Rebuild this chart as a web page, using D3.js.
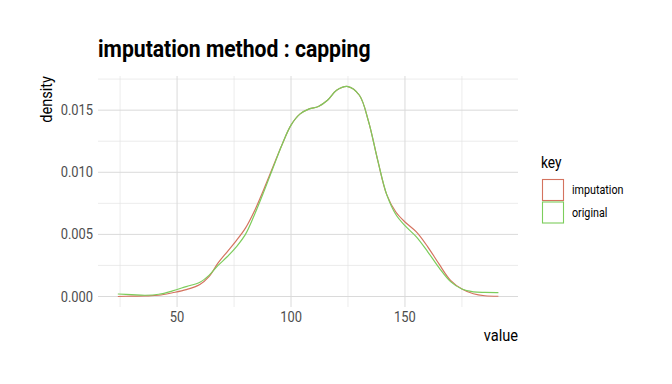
<!DOCTYPE html>
<html><head><meta charset="utf-8">
<script src="https://cdn.jsdelivr.net/npm/d3@7"></script>
<style>body{margin:0;background:#fff;} text{font-family:Roboto,"Noto Sans",sans-serif;}</style>
</head><body><svg id="c" width="672" height="384"></svg>
<script>
const xValues = [24,30,36,42,48,54,60,64,68,72,76,80,84,88,92,96,100,104,108,112,116,120,125,130,134,138,142,146,150,155,160,165,170,175,180,185,191];
const original = [0.0002,0.00015,0.0001,0.00018,0.00045,0.0008,0.00115,0.0017,0.0025,0.0032,0.0040,0.0050,0.0066,0.0084,0.0103,0.0122,0.0138,0.0147,0.0151,0.0153,0.0158,0.0166,0.0169,0.0162,0.0141,0.0110,0.0082,0.0066,0.0057,0.0048,0.0036,0.0023,0.0012,0.0006,0.00038,0.00033,0.00032];
const imputation = [0.0,0.00003,0.00005,0.0001,0.0003,0.00055,0.00097,0.0016,0.0027,0.0036,0.0045,0.0055,0.0069,0.0086,0.0104,0.0122,0.0138,0.0147,0.0151,0.0153,0.0158,0.0166,0.0169,0.0162,0.0141,0.0110,0.0082,0.0068,0.0060,0.0052,0.0040,0.0026,0.0013,0.0006,0.00022,0.00006,0.00002];
const keys = ["imputation","original"];
const colors = ["#d4735f","#7ccd5c"];
const xTicks = [50,100,150];
const xMinor = [25,75,125,175];
const yTicks = [0,0.005,0.010,0.015];
const yMinor = [0.0025,0.0075,0.0125,0.0175];

const svg = d3.select("#c");
const L=98, R=518, T=76, B=307;
const x = d3.scaleLinear().domain([15.3,199.6]).range([L,R]);
const y = d3.scaleLinear().domain([-0.000845,0.01775]).range([B,T]);

function txt(px,py,s,o){
  const g = svg.append("g").attr("transform",`translate(${px},${py})${o.rot?` rotate(${o.rot})`:""} scale(${o.sx||0.86},1)`);
  g.append("text").text(s).attr("font-size",o.size).attr("font-weight",o.weight||400)
   .attr("fill",o.fill||"#333").attr("text-anchor",o.anchor||"start");
}

const grid = svg.append("g");
grid.selectAll(".ym").data(yMinor.filter(v=>y(v)>=T)).join("line").attr("x1",L).attr("x2",R).attr("y1",d=>y(d)).attr("y2",d=>y(d)).attr("stroke","#e4e4e4").attr("stroke-width",0.7);
grid.selectAll(".xm").data(xMinor).join("line").attr("y1",T).attr("y2",B).attr("x1",d=>x(d)).attr("x2",d=>x(d)).attr("stroke","#e4e4e4").attr("stroke-width",0.7);
grid.selectAll(".yM").data(yTicks).join("line").attr("x1",L).attr("x2",R).attr("y1",d=>y(d)).attr("y2",d=>y(d)).attr("stroke","#dadada").attr("stroke-width",1);
grid.selectAll(".xM").data(xTicks).join("line").attr("y1",T).attr("y2",B).attr("x1",d=>x(d)).attr("x2",d=>x(d)).attr("stroke","#dadada").attr("stroke-width",1);

const line = d3.line().x((d,i)=>x(xValues[i])).y(d=>y(d)).curve(d3.curveCatmullRom.alpha(0.5));
[imputation, original].forEach((s,i)=>{
  svg.append("path").attr("d",line(s)).attr("fill","none").attr("stroke",colors[i]).attr("stroke-width",1.2);
});

yTicks.forEach(v=>txt(93,y(v)+5,d3.format(".3f")(v),{size:15,anchor:"end",fill:"#4d4d4d"}));
xTicks.forEach(v=>txt(x(v),322,String(v),{size:15,anchor:"middle",fill:"#4d4d4d"}));
txt(518,341,"value",{size:17,anchor:"end",fill:"#000"});
txt(52,76,"density",{size:17,anchor:"end",fill:"#000",rot:-90});
txt(98,57,"imputation method : capping",{size:23.5,weight:700,fill:"#000",sx:0.9});

txt(541,168,"key",{size:16,fill:"#000"});
keys.forEach((k,i)=>{
  svg.append("rect").attr("x",542.5).attr("y",179.5+i*22.5).attr("width",21).attr("height",21)
    .attr("fill","#fff").attr("stroke",colors[i]).attr("stroke-width",1.1);
  txt(572,194+i*22.5,k,{size:12.5,fill:"#000"});
});
</script></body></html>
